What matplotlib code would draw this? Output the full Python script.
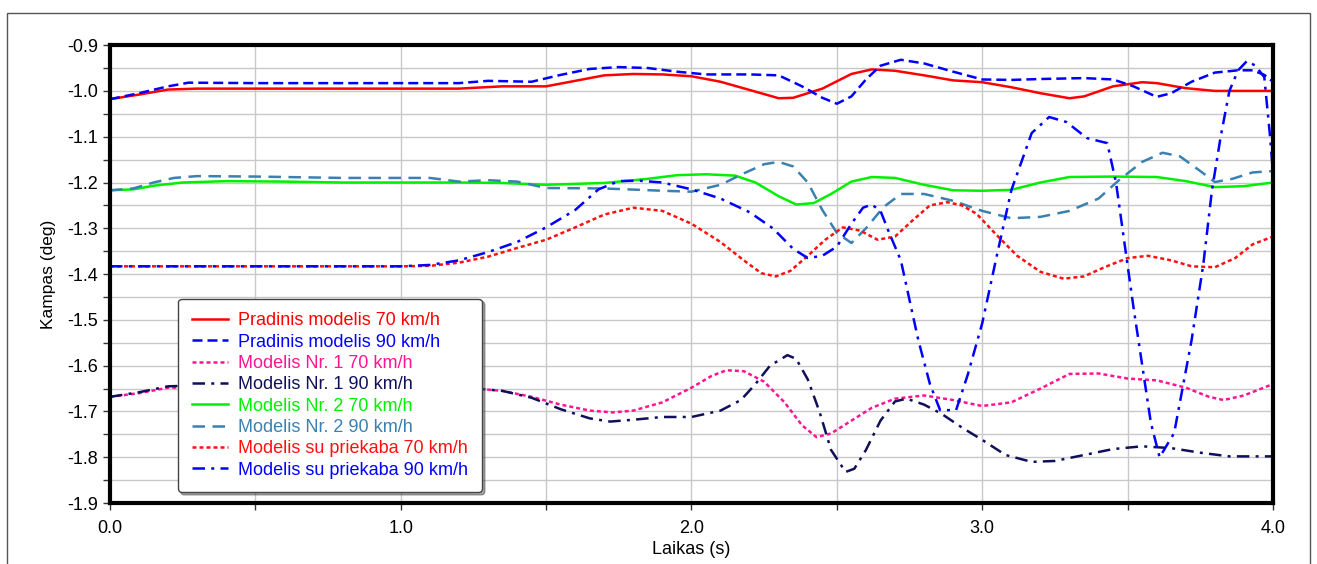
import matplotlib
matplotlib.use("Agg")
import matplotlib.pyplot as plt
from matplotlib.patches import Rectangle
from matplotlib.ticker import MultipleLocator

plt.rcParams['font.family'] = ['Liberation Sans', 'DejaVu Sans']

# Pradinis modelis 70 km/h
t_p70 = [0, 0.1, 0.2, 0.3, 0.6, 1.0, 1.2, 1.35, 1.5, 1.6, 1.7, 1.8, 1.9, 2.0, 2.1, 2.2, 2.3, 2.35,
         2.45, 2.55, 2.62, 2.7, 2.8, 2.9, 3.0, 3.1, 3.2, 3.3, 3.35, 3.45, 3.55, 3.6, 3.7, 3.8, 3.9, 4.0]
v_p70 = [-1.018, -1.008, -0.997, -0.995, -0.995, -0.995, -0.995, -0.99, -0.99, -0.978, -0.966, -0.963,
         -0.964, -0.968, -0.98, -0.998, -1.016, -1.015, -0.995, -0.963, -0.953, -0.956, -0.966, -0.977,
         -0.981, -0.992, -1.005, -1.016, -1.012, -0.99, -0.981, -0.983, -0.994, -1.0, -1.0, -1.0]

# Pradinis modelis 90 km/h
t_p90 = [0, 0.1, 0.2, 0.27, 0.5, 1.0, 1.2, 1.3, 1.45, 1.55, 1.65, 1.75, 1.85, 1.95, 2.05, 2.2, 2.3,
         2.38, 2.45, 2.5, 2.55, 2.6, 2.65, 2.72, 2.8, 2.9, 3.0, 3.1, 3.2, 3.35, 3.45, 3.52, 3.6, 3.65,
         3.72, 3.8, 3.88, 3.93, 3.97, 4.0]
v_p90 = [-1.018, -1.005, -0.99, -0.982, -0.983, -0.983, -0.983, -0.978, -0.98, -0.965, -0.952, -0.948,
         -0.95, -0.958, -0.964, -0.964, -0.966, -0.99, -1.015, -1.028, -1.012, -0.975, -0.945, -0.932,
         -0.94, -0.958, -0.975, -0.976, -0.974, -0.972, -0.975, -0.99, -1.013, -1.005, -0.98, -0.96,
         -0.955, -0.955, -0.965, -0.98]

# Modelis Nr. 1 70 km/h
t_m1_70 = [0, 0.1, 0.2, 0.5, 0.8, 1.1, 1.26, 1.35, 1.45, 1.55, 1.65, 1.73, 1.8, 1.9, 2.0, 2.07, 2.12,
           2.18, 2.25, 2.32, 2.38, 2.43, 2.48, 2.55, 2.62, 2.7, 2.8, 2.9, 3.0, 3.1, 3.2, 3.3, 3.4, 3.5,
           3.6, 3.7, 3.78, 3.83, 3.9, 4.0]
v_m1_70 = [-1.668, -1.66, -1.648, -1.645, -1.648, -1.65, -1.65, -1.655, -1.668, -1.685, -1.698, -1.702,
           -1.698, -1.68, -1.648, -1.622, -1.61, -1.612, -1.635, -1.68, -1.73, -1.756, -1.748, -1.72,
           -1.692, -1.672, -1.665, -1.675, -1.688, -1.68, -1.65, -1.618, -1.617, -1.628, -1.632, -1.648,
           -1.668, -1.675, -1.665, -1.64]

# Modelis Nr. 1 90 km/h
t_m1_90 = [0, 0.1, 0.2, 0.5, 0.8, 1.1, 1.26, 1.35, 1.45, 1.55, 1.65, 1.72, 1.8, 1.9, 2.0, 2.1, 2.17,
           2.22, 2.27, 2.33, 2.36, 2.4, 2.44, 2.48, 2.53, 2.56, 2.6, 2.65, 2.7, 2.74, 2.8, 2.86, 2.93,
           3.0, 3.08, 3.17, 3.25, 3.35, 3.45, 3.55, 3.65, 3.75, 3.85, 4.0]
v_m1_90 = [-1.668, -1.658, -1.645, -1.64, -1.645, -1.648, -1.65, -1.655, -1.67, -1.695, -1.715, -1.722,
           -1.718, -1.712, -1.712, -1.698, -1.675, -1.64, -1.6, -1.577, -1.585, -1.63, -1.70, -1.784,
           -1.832, -1.825, -1.784, -1.72, -1.678, -1.672, -1.685, -1.705, -1.735, -1.762, -1.795,
           -1.81, -1.808, -1.795, -1.782, -1.776, -1.78, -1.79, -1.798, -1.798]

# Modelis Nr. 2 70 km/h
t_m2_70 = [0, 0.08, 0.15, 0.25, 0.4, 0.6, 0.8, 1.0, 1.2, 1.35, 1.5, 1.7, 1.85, 1.95, 2.05, 2.15, 2.22,
           2.3, 2.36, 2.42, 2.48, 2.55, 2.62, 2.7, 2.8, 2.9, 3.0, 3.1, 3.2, 3.3, 3.45, 3.6, 3.7, 3.8,
           3.9, 4.0]
v_m2_70 = [-1.217, -1.215, -1.207, -1.2, -1.197, -1.198, -1.2, -1.2, -1.2, -1.201, -1.205, -1.201,
           -1.192, -1.184, -1.182, -1.185, -1.2, -1.23, -1.248, -1.245, -1.225, -1.198, -1.188, -1.19,
           -1.205, -1.217, -1.218, -1.216, -1.2, -1.188, -1.187, -1.188, -1.197, -1.21, -1.208, -1.2]

# Modelis Nr. 2 90 km/h
t_m2_90 = [0, 0.08, 0.15, 0.22, 0.3, 0.5, 0.8, 1.1, 1.2, 1.3, 1.4, 1.5, 1.7, 1.9, 2.0, 2.1, 2.18,
           2.25, 2.3, 2.35, 2.4, 2.45, 2.5, 2.55, 2.6, 2.66, 2.72, 2.8, 2.9, 3.0, 3.1, 3.2, 3.3, 3.4,
           3.47, 3.55, 3.62, 3.68, 3.75, 3.8, 3.86, 3.93, 4.0]
v_m2_90 = [-1.217, -1.213, -1.2, -1.19, -1.186, -1.187, -1.19, -1.19, -1.198, -1.195, -1.198, -1.212,
           -1.213, -1.218, -1.22, -1.205, -1.18, -1.16, -1.155, -1.165, -1.2, -1.26, -1.31, -1.332,
           -1.3, -1.254, -1.225, -1.225, -1.24, -1.262, -1.278, -1.275, -1.262, -1.235, -1.195, -1.155,
           -1.135, -1.143, -1.175, -1.199, -1.192, -1.178, -1.175]

# Modelis su priekaba 70 km/h
t_s70 = [0, 0.5, 1.0, 1.1, 1.2, 1.3, 1.4, 1.5, 1.6, 1.7, 1.8, 1.9, 2.0, 2.1, 2.18, 2.24, 2.29, 2.34,
         2.4, 2.46, 2.52, 2.58, 2.64, 2.7, 2.76, 2.82, 2.88, 2.93, 2.98, 3.05, 3.12, 3.2, 3.28, 3.35,
         3.42, 3.5, 3.57, 3.65, 3.72, 3.8, 3.87, 3.93, 4.0]
v_s70 = [-1.383, -1.383, -1.383, -1.382, -1.375, -1.362, -1.343, -1.325, -1.298, -1.27, -1.255, -1.262,
         -1.29, -1.33, -1.37, -1.398, -1.405, -1.393, -1.36, -1.325, -1.298, -1.305, -1.325, -1.318,
         -1.283, -1.25, -1.243, -1.25, -1.268, -1.315, -1.36, -1.395, -1.41, -1.405, -1.385, -1.365,
         -1.36, -1.37, -1.383, -1.385, -1.365, -1.335, -1.318]

# Modelis su priekaba 90 km/h
t_s90 = [0, 0.5, 1.0, 1.1, 1.2, 1.3, 1.4, 1.5, 1.6, 1.68, 1.75, 1.82, 1.9, 2.0, 2.1, 2.2, 2.28, 2.35,
         2.4, 2.45, 2.5, 2.55, 2.59, 2.62, 2.65, 2.68, 2.72, 2.78, 2.82, 2.855, 2.91, 2.95, 3.0, 3.05,
         3.1, 3.17, 3.23, 3.29, 3.36, 3.43, 3.46, 3.52, 3.58, 3.61, 3.66, 3.72, 3.76, 3.79, 3.82, 3.85,
         3.88, 3.91, 3.94, 3.97, 3.99, 4.0]
v_s90 = [-1.383, -1.383, -1.383, -1.38, -1.37, -1.352, -1.33, -1.298, -1.26, -1.215, -1.197, -1.196,
         -1.2, -1.215, -1.235, -1.265, -1.3, -1.345, -1.365, -1.36, -1.34, -1.29, -1.255, -1.248,
         -1.262, -1.31, -1.37, -1.544, -1.64, -1.697, -1.697, -1.62, -1.507, -1.36, -1.217, -1.092,
         -1.057, -1.068, -1.103, -1.114, -1.2, -1.472, -1.725, -1.80, -1.747, -1.544, -1.38, -1.217,
         -1.1, -1.0, -0.955, -0.935, -0.945, -0.97, -1.1, -1.18]

fig = plt.figure(figsize=(13.17, 5.64), dpi=100)
ax = fig.add_axes([0.0835, 0.108, 0.8831, 0.812])

# outer gray frame
fig.patches.append(Rectangle((0.0053, -0.02), 0.9894, 0.997, transform=fig.transFigure,
                             fill=False, edgecolor='#555555', lw=1.0))

lw = 1.8
ax.plot(t_p70, v_p70, color='#FF0000', lw=lw, label='Pradinis modelis 70 km/h')
ax.plot(t_p90, v_p90, color='#0000FF', lw=lw, dashes=(4, 2), label='Pradinis modelis 90 km/h')
ax.plot(t_m1_70, v_m1_70, color='#FF1493', lw=lw, dashes=(1.6, 1.2), label='Modelis Nr. 1 70 km/h')
ax.plot(t_m1_90, v_m1_90, color='#10105A', lw=lw, dashes=(5, 2.5, 1.2, 2.5), label='Modelis Nr. 1 90 km/h')
ax.plot(t_m2_70, v_m2_70, color='#00F000', lw=lw, label='Modelis Nr. 2 70 km/h')
ax.plot(t_m2_90, v_m2_90, color='#3A80B0', lw=lw, dashes=(5, 3), label='Modelis Nr. 2 90 km/h')
ax.plot(t_s70, v_s70, color='#FF1010', lw=lw, dashes=(1.6, 1.2), label='Modelis su priekaba 70 km/h')
ax.plot(t_s90, v_s90, color='#0000FF', lw=lw, dashes=(5, 2.5, 1.2, 2.5), label='Modelis su priekaba 90 km/h')

ax.set_xlim(0, 4.0)
ax.set_ylim(-1.9, -0.9)
ax.xaxis.set_major_locator(MultipleLocator(1.0))
ax.xaxis.set_minor_locator(MultipleLocator(0.5))
ax.yaxis.set_major_locator(MultipleLocator(0.1))
ax.yaxis.set_minor_locator(MultipleLocator(0.05))
ax.xaxis.set_major_formatter(matplotlib.ticker.FormatStrFormatter('%.1f'))
ax.yaxis.set_major_formatter(matplotlib.ticker.FormatStrFormatter('%.1f'))
ax.grid(True, which='both', color='#C8C8C8', lw=1.0)
ax.set_axisbelow(True)
ax.tick_params(which='both', direction='out', length=5, width=1, labelsize=13, color='#333333')
ax.tick_params(axis='x', pad=7)
for s in ax.spines.values():
    s.set_linewidth(3)
    s.set_color('black')

ax.set_xlabel('Laikas (s)', fontsize=13, labelpad=3)
ax.set_ylabel('Kampas (deg)', fontsize=12.5, labelpad=8)

leg = ax.legend(loc='lower left', bbox_to_anchor=(0.0585, 0.024), fontsize=13, labelcolor='linecolor',
                frameon=True, fancybox=True, shadow=True, handlelength=2.0, handletextpad=0.6,
                labelspacing=0.24, borderpad=0.75, borderaxespad=0.0, framealpha=1)
leg.get_frame().set_edgecolor('#444444')
leg.get_frame().set_linewidth(1.0)

fig.savefig('out.png', dpi=100)
